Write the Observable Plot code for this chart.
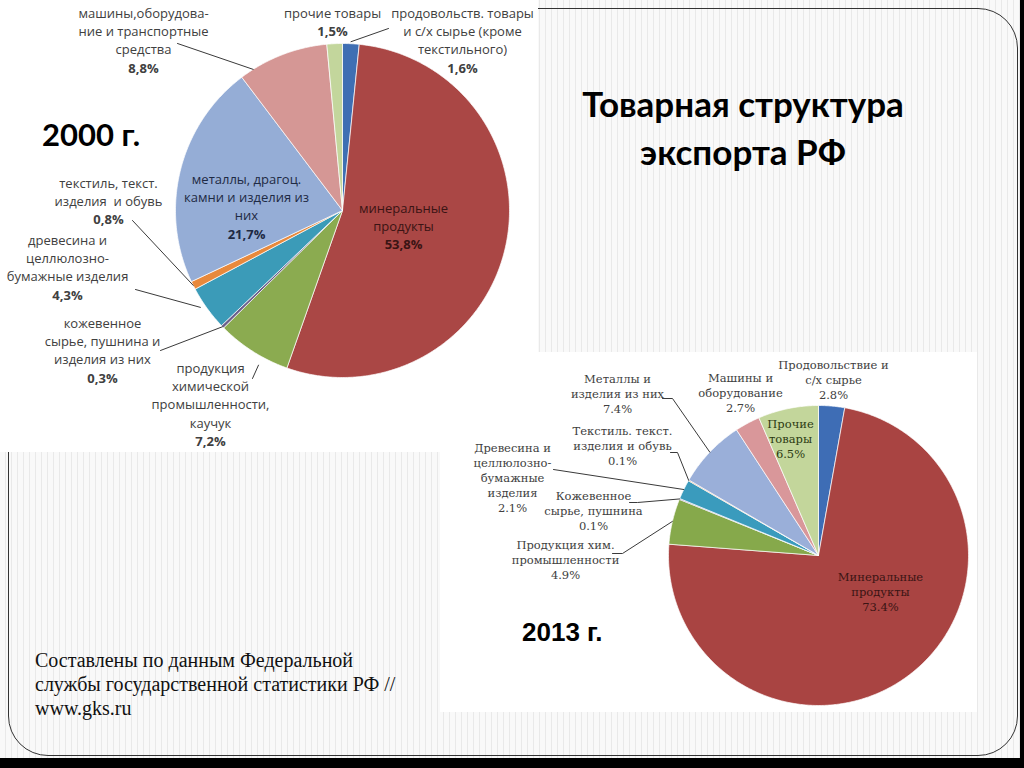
<!DOCTYPE html>
<html><head><meta charset="utf-8">
<script src="https://cdn.jsdelivr.net/npm/d3@7"></script>
<script src="https://cdn.jsdelivr.net/npm/@observablehq/plot@0.6"></script>
<style>
html,body{margin:0;padding:0;}
body{width:1024px;height:768px;overflow:hidden;background:#000;position:relative;}
#slide{position:absolute;left:0;top:0;width:1020px;height:758px;
 background:repeating-linear-gradient(90deg,#f9f9f9 0px,#f9f9f9 5px,#e9e9e9 5px,#e9e9e9 6px);}
#frame{position:absolute;left:8px;top:8px;width:1008px;height:746px;border:1.3px solid #333;border-radius:40px;}
.panel{position:absolute;background:#fff;}
#chart{position:absolute;left:0;top:0;}
.t{position:absolute;white-space:nowrap;color:#000;}
</style></head>
<body>
<div id="slide"></div>
<div id="frame"></div>
<div class="panel" style="left:0;top:0;width:538px;height:452px"></div>
<div class="panel" style="left:440px;top:352px;width:537px;height:360px"></div>
<div id="chart"></div>
<div class="t" style="left:543px;top:79px;width:400px;text-align:center;font:700 35px/48px Lato,'Open Sans',sans-serif;">Товарная структура<br>экспорта РФ</div>
<div class="t" style="left:42px;top:114px;font:700 31px/40px Lato,'Open Sans',sans-serif;">2000 г.</div>
<div class="t" style="left:522px;top:612px;font:700 26px/40px 'Liberation Sans',Arial,sans-serif;">2013 г.</div>
<div class="t" style="left:35px;top:648px;font:400 20px/24px 'Liberation Serif',serif;color:#111;">Составлены по данным Федеральной<br>службы государственной статистики РФ //<br>www.gks.ru</div>
<script>
// ---- data ----
const categories2000 = [
  "продовольств. товары\nи с/х сырье (кроме\nтекстильного)",
  "минеральные\nпродукты",
  "продукция\nхимической\nпромышленности,\nкаучук",
  "кожевенное\nсырье, пушнина и\nизделия из них",
  "древесина и\nцеллюлозно-\nбумажные изделия",
  "текстиль, текст.\nизделия  и обувь",
  "металлы, драгоц.\nкамни и изделия из\nних",
  "машины,оборудова-\nние и транспортные\nсредства",
  "прочие товары"
];
const values2000 = [1.6, 53.8, 7.2, 0.3, 4.3, 0.8, 21.7, 8.8, 1.5];

const categories2013 = [
  "Продовольствие и\nс/х сырье",
  "Минеральные\nпродукты",
  "Продукция хим.\nпромышленности",
  "Кожевенное\nсырье, пушнина",
  "Древесина и\nцеллюлозно-\nбумажные\nизделия",
  "Текстиль. текст.\nизделия и обувь",
  "Металлы и\nизделия из них",
  "Машины и\nоборудование",
  "Прочие\nтовары"
];
const values2013 = [2.8, 73.4, 4.9, 0.1, 2.1, 0.1, 7.4, 2.7, 6.5];

// ---- styles ----
const colors2000 = ["#3f6fb3","#aa4745","#8bab50","#6b5f8a","#3b9bb8","#e8893c","#95add6","#d59795","#c3d69c"];
const colors2013 = ["#3e6db5","#a94442","#86a94b","#7b5ea0","#3a9bbd","#e0883a","#9aafd9","#d9979a","#c3d69b"];

// ---- layout (page pixels) ----
const pie2000 = {x:342, y:210, r:167};
const pie2013 = {x:818, y:555, r:150};
const layout2000 = [
  {x:462, y:13,  fill:"#404040", path:[[388,28]], at:0.5, dr:2},
  {x:403, y:208, fill:"#3a1414"},
  {x:210, y:368, fill:"#404040", path:[[252,378]], at:0.35, dr:9},
  {x:102, y:323, fill:"#404040", path:[[160,350]], at:0.5, dr:0},
  {x:67,  y:240, fill:"#404040", path:[[135,289]], at:0.6, dr:5},
  {x:108, y:183, fill:"#404040", path:[[132,220]], at:0.5, dr:0},
  {x:246, y:179, fill:"#1e2a44"},
  {x:143, y:13,  fill:"#404040", path:[[177,43]], at:0.15, dr:0},
  {x:332, y:13,  fill:"#404040"}
];
const layout2013 = [
  {x:833, y:365, fill:"#404040"},
  {x:880, y:577, fill:"#3a1414"},
  {x:565, y:545, fill:"#404040", path:[[612,553],[622,553]], at:0.5, dr:0},
  {x:593, y:496, fill:"#404040", path:[[629,502],[637,502]], at:0.5, dr:0},
  {x:512, y:448, fill:"#404040", path:[[553,469]], at:0.5, dr:0},
  {x:622, y:431, fill:"#404040", path:[[670,452],[677,452]], at:0.5, dr:0},
  {x:617, y:379, fill:"#404040", path:[[662,398],[672,398]], at:0.5, dr:0},
  {x:740, y:378, fill:"#404040"},
  {x:790, y:424, fill:"#2c3a12"}
];

function buildPie(values, colors, c){
  const arcs = d3.pie().sort(null).value(d => d)(values);
  return arcs.map((a, i) => {
    const pts = [[c.x, c.y]];
    const n = Math.max(2, Math.ceil((a.endAngle - a.startAngle) / 0.01));
    for (let k = 0; k <= n; k++) {
      const t = a.startAngle + (a.endAngle - a.startAngle) * k / n;
      pts.push([c.x + c.r * Math.sin(t), c.y - c.r * Math.cos(t)]);
    }
    pts.push([c.x, c.y]);
    return {pts, color: colors[i], arc: a};
  });
}

function buildLabels(cats, values, lay, lh, fmt){
  const rows = [];
  cats.forEach((name, i) => {
    const L = lay[i];
    const lines = name.split("\n");
    lines.forEach((s, k) => rows.push({text: s, x: L.x, y: L.y + k * lh, fill: L.fill, pct: false}));
    rows.push({text: fmt(values[i]), x: L.x, y: L.y + lines.length * lh, fill: L.fill, pct: true});
  });
  return rows;
}

function buildLeaders(slices, lay, c){
  const out = [];
  lay.forEach((L, i) => {
    if (!L.path) return;
    const a = slices[i].arc;
    const t = a.startAngle + (a.endAngle - a.startAngle) * L.at;
    const r = c.r + L.dr;
    out.push(L.path.concat([[c.x + r * Math.sin(t), c.y - r * Math.cos(t)]]));
  });
  return out;
}

const s2000 = buildPie(values2000, colors2000, pie2000);
const s2013 = buildPie(values2013, colors2013, pie2013);
const lab2000 = buildLabels(categories2000, values2000, layout2000, 18.3, v => v.toFixed(1).replace(".", ",") + "%");
const lab2013 = buildLabels(categories2013, values2013, layout2013, 15, v => v.toFixed(1) + "%");
const lead2000 = buildLeaders(s2000, layout2000, pie2000);
const lead2013 = buildLeaders(s2013, layout2013, pie2013);

const sliceMarks = s => s.map(d => Plot.line(d.pts, {x: p => p[0], y: p => p[1], fill: d.color, stroke: "#fff", strokeWidth: 0.7, strokeLinejoin: "round"}));
const leaderMarks = L => L.map(p => Plot.line(p, {x: q => q[0], y: q => q[1], stroke: "#3a3a3a", strokeWidth: 1}));

const chart = Plot.plot({
  width: 1024, height: 768, margin: 0,
  x: {domain: [0, 1024], range: [0, 1024], axis: null},
  y: {domain: [0, 768], range: [0, 768], axis: null},
  color: {type: "identity"},
  style: {background: "transparent", overflow: "visible"},
  marks: [
    ...sliceMarks(s2000),
    ...sliceMarks(s2013),
    ...leaderMarks(lead2000),
    ...leaderMarks(lead2013),
    Plot.text(lab2000.filter(d => !d.pct), {x: "x", y: "y", text: "text", fill: "fill", fontSize: 13, fontFamily: "'Open Sans', sans-serif", textAnchor: "middle", lineAnchor: "middle"}),
    Plot.text(lab2000.filter(d => d.pct), {x: "x", y: "y", text: "text", fill: "fill", fontSize: 13, fontWeight: "bold", fontFamily: "'Open Sans', sans-serif", textAnchor: "middle", lineAnchor: "middle"}),
    Plot.text(lab2013, {x: "x", y: "y", text: "text", fill: "fill", fontSize: 11.5, fontFamily: "'DejaVu Serif', serif", textAnchor: "middle", lineAnchor: "middle"})
  ]
});
document.getElementById("chart").appendChild(chart);
</script>
</body></html>
